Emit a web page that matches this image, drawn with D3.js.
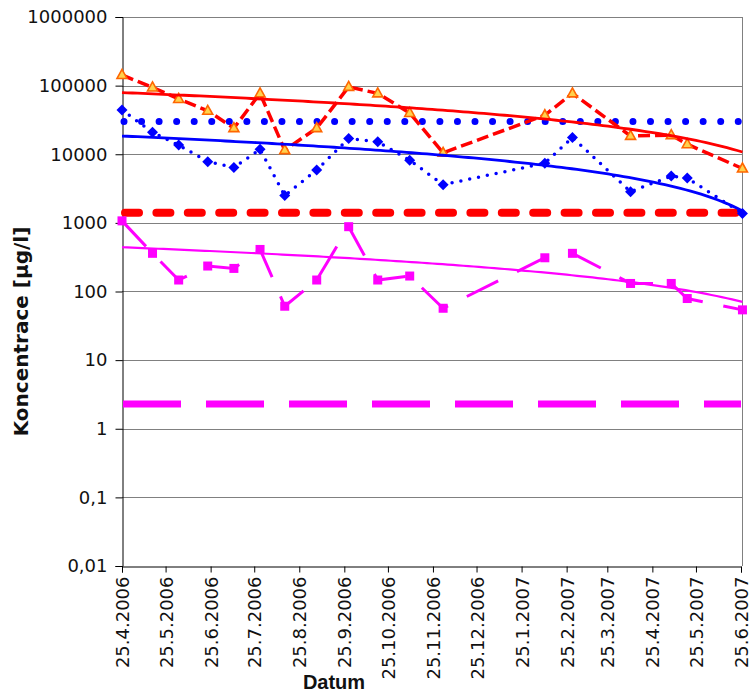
<!DOCTYPE html>
<html><head><meta charset="utf-8">
<script src="https://cdn.jsdelivr.net/npm/d3@7"></script>
<style>body{margin:0;background:#fff;} svg{display:block;}</style>
</head><body>
<script>
// ---- data ----
const sampleDates = ["2006-04-25","2006-05-16","2006-06-03","2006-06-23","2006-07-11","2006-07-29","2006-08-15","2006-09-06","2006-09-28","2006-10-18","2006-11-09","2006-12-02","2007-02-10","2007-03-01","2007-04-10","2007-05-08","2007-05-19","2007-06-26"];
const redValues = [143000, 94000, 64000, 43000, 24000, 77000, 11500, 24000, 96000, 77000, 40000, 10500, 37000, 77000, 18500, 19000, 14000, 6200];
const blueValues = [44000, 21000, 13600, 7800, 6400, 11800, 2500, 5900, 17000, 15200, 8200, 3600, 7400, 17600, 2850, 4800, 4500, 1370];
const magentaValues = [1070, 360, 147, 235, 217, 410, 61, 147, 880, 147, 168, 57, 310, 360, 131, 131, 79, 54];
const blueLimit = [30000];
const redLimit = [1400];
const magentaLimit = [2.3];
const yTickValues = [0.01, 0.1, 1, 10, 100, 1000, 10000, 100000, 1000000];
const yTickLabels = ["0,01", "0,1", "1", "10", "100", "1000", "10000", "100000", "1000000"];
const xTickDates = ["2006-04-25","2006-05-25","2006-06-25","2006-07-25","2006-08-25","2006-09-25","2006-10-25","2006-11-25","2006-12-25","2007-01-25","2007-02-25","2007-03-25","2007-04-25","2007-05-25","2007-06-25"];
const xTickLabels = ["25.4.2006","25.5.2006","25.6.2006","25.7.2006","25.8.2006","25.9.2006","25.10.2006","25.11.2006","25.12.2006","25.1.2007","25.2.2007","25.3.2007","25.4.2007","25.5.2007","25.6.2007"];
const yTitle = "Koncentrace [µg/l]";
const xTitle = "Datum";

// ---- setup ----
const W = 753, H = 694;
const pL = 122, pR = 741, pT = 17, pB = 566;
const parse = d3.utcParse("%Y-%m-%d");
const dates = sampleDates.map(parse);
const tickDates = xTickDates.map(parse);

const x = d3.scaleUtc().domain([tickDates[0], tickDates[tickDates.length - 1]]).range([pL, pR]);
const y = d3.scaleLog().domain([0.01, 1000000]).range([pB, pT]);

const svg = d3.select("body").append("svg").attr("width", W).attr("height", H)
  .style("font-family", "'DejaVu Sans', sans-serif");
svg.append("rect").attr("width", W).attr("height", H).attr("fill", "#fff");

// gridlines
svg.append("g").selectAll("line").data(yTickValues.slice(1)).join("line")
  .attr("x1", pL).attr("x2", pR + 1)
  .attr("y1", d => Math.round(y(d)) + 0.5).attr("y2", d => Math.round(y(d)) + 0.5)
  .attr("stroke", "#808080").attr("stroke-width", 1);
// right border
svg.append("line").attr("x1", pR + 1.5).attr("x2", pR + 1.5).attr("y1", pT).attr("y2", pB)
  .attr("stroke", "#808080").attr("stroke-width", 1);

// y axis
const yAxis = d3.axisLeft(y).tickValues(yTickValues)
  .tickFormat((d, i) => yTickLabels[i]).tickSize(7).tickPadding(8);
const gy = svg.append("g").attr("transform", `translate(${pL + 0.5},0)`).call(yAxis);
gy.select(".domain").attr("stroke", "#000");
gy.selectAll(".tick line").attr("stroke", "#000");
gy.selectAll(".tick text").attr("font-size", 18).attr("fill", "#111")
  .attr("font-family", "'DejaVu Sans', sans-serif");

// x axis
const xAxis = d3.axisBottom(x).tickValues(tickDates).tickFormat((d, i) => xTickLabels[i]).tickSize(6);
const gx = svg.append("g").attr("transform", `translate(0,${pB + 0.5})`).call(xAxis);
gx.select(".domain").attr("stroke", "#000");
gx.selectAll(".tick line").attr("stroke", "#000");
gx.selectAll(".tick text").attr("font-size", 18).attr("fill", "#111")
  .attr("font-family", "'DejaVu Sans', sans-serif")
  .attr("text-anchor", "end")
  .attr("transform", "translate(0,10) rotate(-90)")
  .attr("x", 0).attr("y", 0).attr("dy", "0.36em");

// limit lines
const limitG = svg.append("g");
limitG.selectAll(".lb").data(blueLimit).join("line").attr("class", "lb")
  .attr("x1", pL + 2).attr("x2", pR).attr("y1", d => y(d)).attr("y2", d => y(d))
  .attr("stroke", "#0000FF").attr("stroke-width", 7).attr("stroke-linecap", "round")
  .attr("stroke-dasharray", "0 17.55");
limitG.selectAll(".lr").data(redLimit).join("line").attr("class", "lr")
  .attr("x1", pL + 3).attr("x2", pR).attr("y1", d => y(d)).attr("y2", d => y(d))
  .attr("stroke", "#FF0000").attr("stroke-width", 8).attr("stroke-linecap", "round")
  .attr("stroke-dasharray", "14 17.4");
limitG.selectAll(".lm").data(magentaLimit).join("line").attr("class", "lm")
  .attr("x1", pL + 1).attr("x2", pR).attr("y1", d => y(d)).attr("y2", d => y(d))
  .attr("stroke", "#FF00FF").attr("stroke-width", 7)
  .attr("stroke-dasharray", "58 25");

// series
const line = d3.line().x(d => x(d[0])).y(d => y(d[1]));
function pts(vals) { return dates.map((d, i) => [d, vals[i]]); }

svg.append("path").datum(pts(redValues)).attr("d", line).attr("fill", "none")
  .attr("stroke", "#FF0000").attr("stroke-width", 3.5).attr("stroke-dasharray", "12 5");
svg.append("path").datum(pts(blueValues)).attr("d", line).attr("fill", "none")
  .attr("stroke", "#0000FF").attr("stroke-width", 3.5).attr("stroke-linecap", "round")
  .attr("stroke-dasharray", "0 9");
svg.append("path").datum(pts(magentaValues)).attr("d", line).attr("fill", "none")
  .attr("stroke", "#FF00FF").attr("stroke-width", 3).attr("stroke-dasharray", "35 21");

// markers
svg.append("g").selectAll("path").data(pts(redValues)).join("path")
  .attr("transform", d => `translate(${x(d[0])},${y(d[1])})`)
  .attr("d", "M0,-5.5L5,3.5L-5,3.5Z")
  .attr("fill", "#FFD24D").attr("stroke", "#FF6600").attr("stroke-width", 1.6);
svg.append("g").selectAll("path").data(pts(blueValues)).join("path")
  .attr("transform", d => `translate(${x(d[0])},${y(d[1])})`)
  .attr("d", "M0,-5.5L5.5,0L0,5.5L-5.5,0Z")
  .attr("fill", "#0000FF");
svg.append("g").selectAll("rect").data(pts(magentaValues)).join("rect")
  .attr("x", d => x(d[0]) - 4.5).attr("y", d => y(d[1]) - 4.5)
  .attr("width", 9).attr("height", 9).attr("fill", "#FF00FF");

// linear trendlines (least squares of value vs. date)
function trend(vals) {
  const t = dates.map(d => +d);
  const n = t.length;
  const mt = d3.mean(t), mv = d3.mean(vals);
  let sxy = 0, sxx = 0;
  for (let i = 0; i < n; i++) { sxy += (t[i] - mt) * (vals[i] - mv); sxx += (t[i] - mt) ** 2; }
  const b = sxy / sxx, a = mv - b * mt;
  const t0 = t[0], t1 = t[n - 1];
  return d3.range(0, 121).map(k => { const tt = t0 + (t1 - t0) * k / 120; return [new Date(tt), a + b * tt]; });
}
svg.append("path").datum(trend(redValues)).attr("d", line).attr("fill", "none")
  .attr("stroke", "#FF0000").attr("stroke-width", 2.8);
svg.append("path").datum(trend(blueValues)).attr("d", line).attr("fill", "none")
  .attr("stroke", "#0000FF").attr("stroke-width", 2.8);
svg.append("path").datum(trend(magentaValues)).attr("d", line).attr("fill", "none")
  .attr("stroke", "#FF00FF").attr("stroke-width", 2.2);

// titles
svg.append("text").text(yTitle)
  .attr("transform", `translate(28,${(pT + pB) / 2 + 40}) rotate(-90)`)
  .attr("text-anchor", "middle").attr("font-size", 20).attr("font-weight", "bold")
  .attr("fill", "#111");
svg.append("text").text(xTitle)
  .attr("x", 334).attr("y", 689).attr("text-anchor", "middle")
  .attr("font-family", "'Liberation Sans', Arial, sans-serif")
  .attr("font-size", 20).attr("font-weight", "bold").attr("fill", "#111");
</script>
</body></html>
